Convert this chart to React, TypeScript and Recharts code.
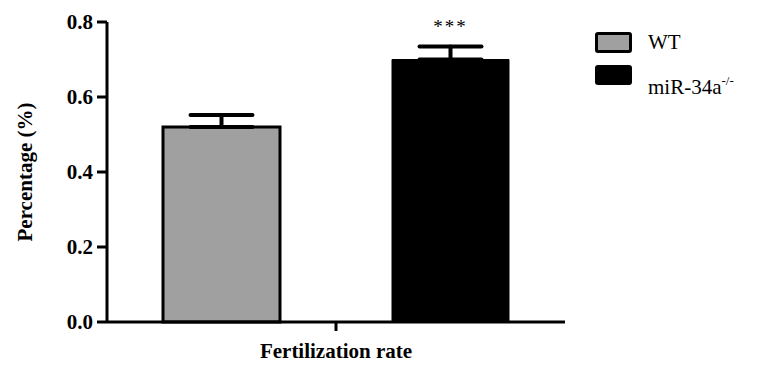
import React from 'react';
import { BarChart, Bar, XAxis, YAxis, ErrorBar, Legend, LabelList, Label } from 'recharts';

const categories = ['Fertilization rate'];
const wtValues = [0.52];
const wtErrors = [0.032];
const koValues = [0.70];
const koErrors = [0.035];
const yTicks = [0, 0.2, 0.4, 0.6, 0.8];
const significance = ['***'];

const data = categories.map((name, i) => ({
  name,
  wt: wtValues[i],
  wtErr: [0, wtErrors[i]],
  ko: koValues[i],
  koErr: [0, koErrors[i]],
  sig: significance[i],
}));

const FONT = '"Liberation Serif", Tinos, "DejaVu Serif", serif';

const LegendContent = () => (
  <div style={{ position: 'relative', width: 160, height: 80, fontFamily: FONT, fontSize: 21, color: '#000' }}>
    <span style={{ position: 'absolute', left: 0, top: 4, width: 31, height: 15, background: '#a0a0a0', border: '3px solid #000', borderRadius: 3 }} />
    <span style={{ position: 'absolute', left: 53, top: 2, lineHeight: '24px' }}>WT</span>
    <span style={{ position: 'absolute', left: 0, top: 37, width: 37, height: 20, background: '#000', borderRadius: 3 }} />
    <span style={{ position: 'absolute', left: 53, top: 47, lineHeight: '24px', whiteSpace: 'nowrap' }}>
      miR-34a<sup style={{ fontSize: 13, verticalAlign: 'top', position: 'relative', top: -6 }}>-/-</sup>
    </span>
  </div>
);

export default function App() {
  return (
    <div style={{ position: 'absolute', left: 0, top: 0, background: '#fff' }}>
      <BarChart
        width={757}
        height={365}
        data={data}
        margin={{ top: 22, right: 192, bottom: 0, left: 0 }}
        barGap={112}
      >
        <XAxis
          dataKey="name"
          height={43}
          axisLine={{ stroke: '#000', strokeWidth: 3 }}
          tickLine={{ stroke: '#000', strokeWidth: 3 }}
          tickSize={9}
          tickMargin={12}
          tick={{ fill: '#000', fontSize: 21, fontWeight: 'bold', fontFamily: FONT }}
        />
        <YAxis
          width={107}
          domain={[0, 0.8]}
          ticks={yTicks}
          tickFormatter={(v: number) => v.toFixed(1)}
          axisLine={{ stroke: '#000', strokeWidth: 3 }}
          tickLine={{ stroke: '#000', strokeWidth: 3 }}
          tickSize={10}
          tickMargin={4}
          tick={{ fill: '#000', fontSize: 21, fontWeight: 'bold', fontFamily: FONT }}
        >
          <Label
            value="Percentage (%)"
            angle={-90}
            position="insideLeft"
            offset={25}
            style={{ textAnchor: 'middle', fill: '#000', fontSize: 21, fontWeight: 'bold', fontFamily: FONT }}
          />
        </YAxis>
        <Legend
          layout="vertical"
          align="center"
          verticalAlign="middle"
          wrapperStyle={{ left: 595, top: 28, width: 160 }}
          content={<LegendContent />}
        />
        <Bar dataKey="wt" fill="#a0a0a0" stroke="#000" strokeWidth={3} barSize={117} isAnimationActive={false}>
          <ErrorBar dataKey="wtErr" width={31} stroke="#000" strokeWidth={4} strokeLinecap="round" direction="y" />
        </Bar>
        <Bar dataKey="ko" fill="#000" stroke="#000" strokeWidth={1} barSize={117} isAnimationActive={false}>
          <ErrorBar dataKey="koErr" width={31} stroke="#000" strokeWidth={4} strokeLinecap="round" direction="y" />
          <LabelList
            dataKey="sig"
            position="top"
            offset={27}
            style={{ fill: '#000', fontSize: 19, fontFamily: FONT, letterSpacing: 2 }}
          />
        </Bar>
      </BarChart>
    </div>
  );
}
